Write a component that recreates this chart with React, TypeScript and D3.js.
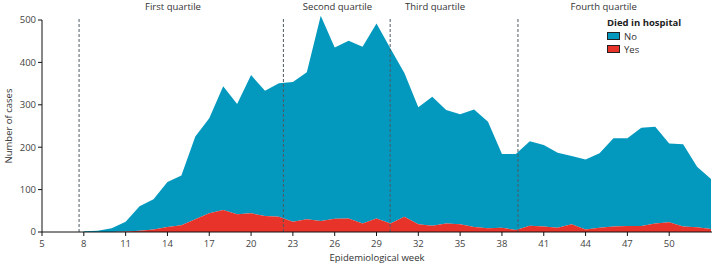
import React from 'react';
import * as d3 from 'd3';

// epidemiological weeks with data
const weeks = [8, 9, 10, 11, 12, 13, 14, 15, 16, 17, 18, 19, 20, 21, 22, 23, 24, 25, 26, 27, 28, 29, 30,
  31, 32, 33, 34, 35, 36, 37, 38, 39, 40, 41, 42, 43, 44, 45, 46, 47, 48, 49, 50, 51, 52, 53];

// died in hospital: no / yes
const diedNo = [2, 3, 9, 23, 58, 71, 106, 117, 195, 224, 292, 260, 326, 295, 315, 330, 347, 484, 404, 419, 417, 460, 413,
  339, 276, 304, 268, 260, 277, 251, 174, 179, 199, 192, 177, 161, 165, 176, 208, 207, 232, 228, 186, 194, 143, 118];
const diedYes = [0, 0, 0, 1, 3, 6, 12, 16, 30, 44, 52, 42, 44, 38, 36, 24, 30, 26, 31, 32, 20, 32, 20,
  36, 18, 15, 20, 18, 12, 9, 10, 5, 15, 13, 10, 18, 6, 10, 13, 14, 14, 20, 23, 13, 11, 7];

const quartileCuts = [7.66, 22.32, 29.98, 39.15];
const quartileLabels = ['First quartile', 'Second quartile', 'Third quartile', 'Fourth quartile'];
const quartileLabelWeeks = [14.4, 26.2, 33.2, 45.3];

const xTicks = [5, 8, 11, 14, 17, 20, 23, 26, 29, 32, 35, 38, 41, 44, 47, 50];
const yTicks = [0, 100, 200, 300, 400, 500];

const BLUE = '#0399bf';
const RED = '#e8332a';
const FONT = '"Open Sans", sans-serif';

export default function App() {
  const width = 712;
  const height = 267;
  const margin = { top: 20, right: 1, bottom: 35, left: 42 };

  const x = d3.scaleLinear().domain([5, 53]).range([margin.left, width - margin.right]);
  const y = d3.scaleLinear().domain([0, 500]).range([height - margin.bottom, margin.top]);

  const rows = weeks.map((w, i) => ({ week: w, yes: diedYes[i], no: diedNo[i] }));
  const series = d3.stack<any>().keys(['yes', 'no'])(rows);

  const area = d3.area<any>()
    .x(d => x(d.data.week))
    .y0(d => y(d[0]))
    .y1(d => y(d[1]));

  const y0 = y(0);

  return (
    <svg width={width} height={height} style={{ position: 'absolute', left: 0, top: 0 }} fontFamily={FONT}>
      {/* areas */}
      <path d={area(series[1] as any)!} fill={BLUE} />
      <path d={area(series[0] as any)!} fill={RED} />

      {/* quartile cut lines */}
      {quartileCuts.map((q, i) => (
        <line key={i} x1={x(q)} x2={x(q)} y1={margin.top - 1} y2={y0}
          stroke="#4d5a63" strokeWidth={1} strokeDasharray="3,2" />
      ))}
      {quartileLabels.map((t, i) => (
        <text key={t} x={x(quartileLabelWeeks[i])} y={10} textAnchor="middle" fontSize={9.5} fill="#333">{t}</text>
      ))}

      {/* y axis */}
      <line x1={margin.left} x2={margin.left} y1={y(500)} y2={y0} stroke="#111" strokeWidth={1} />
      {yTicks.map(t => (
        <g key={t}>
          <line x1={margin.left - 4} x2={margin.left} y1={y(t)} y2={y(t)} stroke="#111" />
          <text x={margin.left - 6} y={y(t)} dy="0.35em" textAnchor="end" fontSize={9.5} fill="#444">{t}</text>
        </g>
      ))}
      <text transform={`translate(12,${(y(0) + y(500)) / 2}) rotate(-90)`} textAnchor="middle" fontSize={9.5} fill="#333">
        Number of cases
      </text>

      {/* x axis */}
      <line x1={margin.left} x2={width} y1={y0} y2={y0} stroke="#111" strokeWidth={1} />
      {xTicks.map(t => (
        <g key={t}>
          <line x1={x(t)} x2={x(t)} y1={y0} y2={y0 + 4} stroke="#111" />
          <text x={x(t)} y={y0 + 15} textAnchor="middle" fontSize={9.5} fill="#444">{t}</text>
        </g>
      ))}
      <text x={377} y={261} textAnchor="middle" fontSize={9.5} fill="#333">Epidemiological week</text>

      {/* legend */}
      <text x={607} y={26} fontSize={9.5} fontWeight="bold" fill="#222">Died in hospital</text>
      <rect x={607.5} y={32.5} width={12} height={7} fill={BLUE} stroke="#222" strokeWidth={1} />
      <text x={624} y={39.5} fontSize={9.5} fill="#333">No</text>
      <rect x={607.5} y={45.5} width={12} height={7} fill={RED} stroke="#222" strokeWidth={1} />
      <text x={624} y={52.5} fontSize={9.5} fill="#333">Yes</text>
    </svg>
  );
}
